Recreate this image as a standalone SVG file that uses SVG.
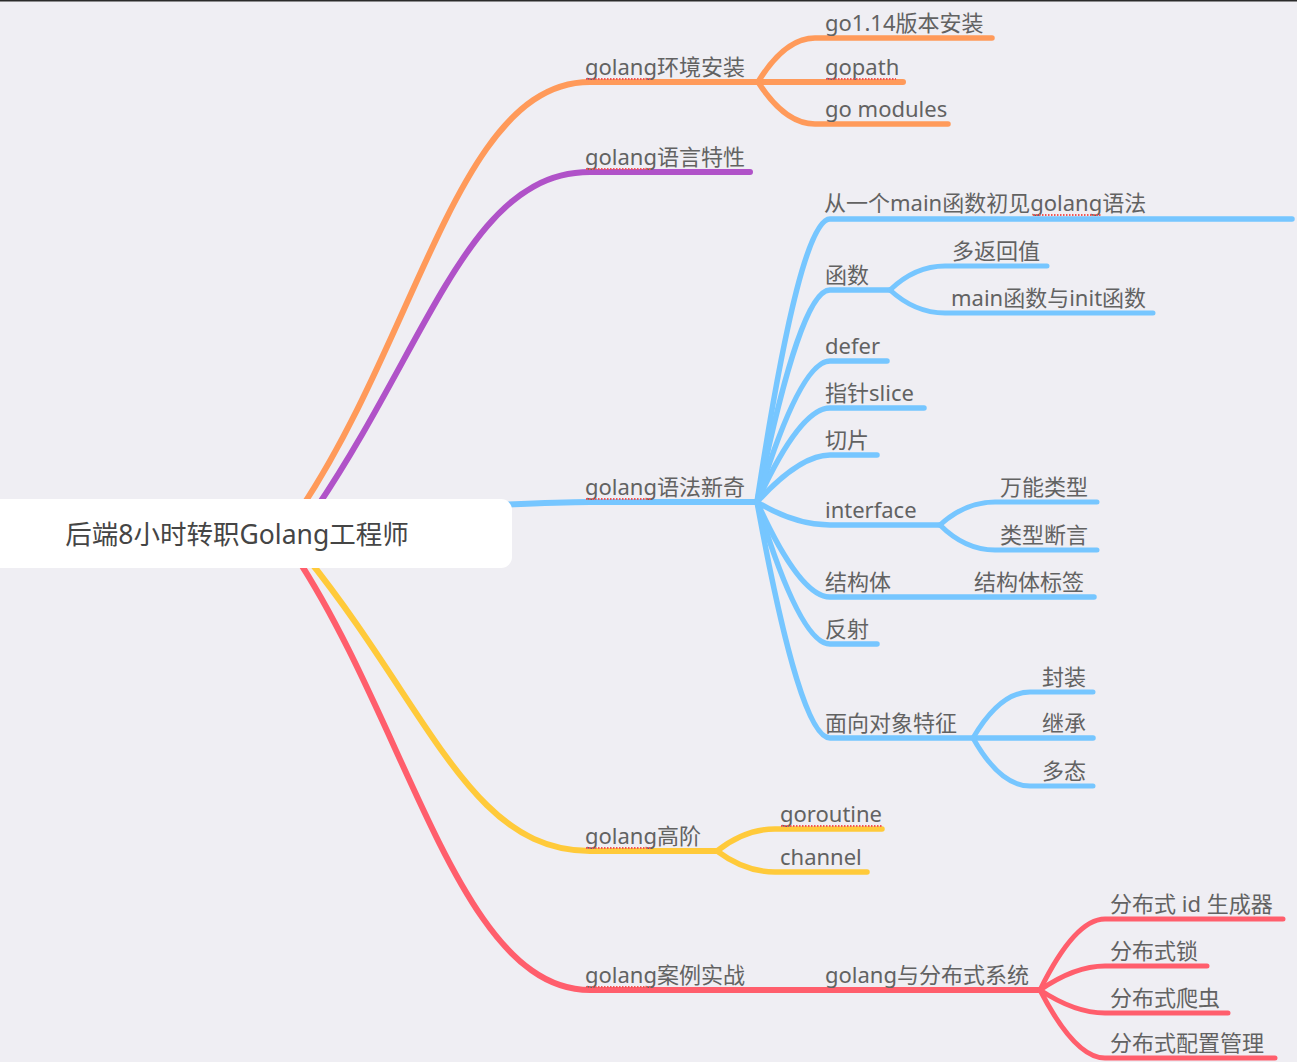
<svg xmlns="http://www.w3.org/2000/svg" width="1297" height="1062" viewBox="0 0 1297 1062">
<style>
  .t { font-family: "Noto Sans", "Noto Sans CJK SC", sans-serif; font-size: 22px; fill: #626262; }
  .root { font-family: "Noto Sans", "Noto Sans CJK SC", sans-serif; font-size: 26.5px; fill: #454545; }
  .c { fill: none; stroke-linecap: round; stroke-linejoin: round; }
  .l1 { stroke-width: 6; }
  .l2 { stroke-width: 5.5; }
  .l3 { stroke-width: 5; }
  .or { stroke: #FF9A5A; }
  .pu { stroke: #B052C8; }
  .bl { stroke: #76C6FF; }
  .ye { stroke: #FFCA3A; }
  .re { stroke: #FF5E6C; }
  .sp { fill: none; stroke: #F25555; stroke-width: 2; stroke-dasharray: 1.5 1.5; }
</style>
<rect x="0" y="0" width="1297" height="1062" fill="#EFEEF3"/>
<rect x="0" y="0" width="1297" height="1.5" fill="#2A2A2A"/>

<g id="connectors">
  <!-- level 1 -->
  <path class="c l1 or" d="M300,510 C420,330 460,82 590,82 L903,82"/>
  <path class="c l1 pu" d="M315,510 C430,340 470,172 590,172 L750,172"/>
  <path class="c l1 bl" d="M500,505 C540,503 560,502 590,502 L757,502"/>
  <path class="c l1 ye" d="M305,555 C430,710 470,851 590,851 L717,851"/>
  <path class="c l1 re" d="M295,555 C410,730 460,990 590,990 L1040,990"/>

  <!-- orange children -->
  <path class="c l2 or" d="M758,82 Q785,38 815,38 L992,38"/>
  <path class="c l2 or" d="M758,82 Q785,124 815,124 L948,124"/>

  <!-- blue children -->
  <path class="c l2 bl" d="M757,502 Q800,219 830,219 L1292,219"/>
  <path class="c l2 bl" d="M757,502 Q800,290 830,290 L890,290"/>
  <path class="c l2 bl" d="M757,502 Q800,361 830,361 L887,361"/>
  <path class="c l2 bl" d="M757,502 Q800,408 830,408 L924,408"/>
  <path class="c l2 bl" d="M757,502 Q800,455 830,455 L877,455"/>
  <path class="c l2 bl" d="M757,502 Q795,525 830,525 L940,525"/>
  <path class="c l2 bl" d="M757,502 Q800,597 830,597 L1094,597"/>
  <path class="c l2 bl" d="M757,502 Q800,644 830,644 L877,644"/>
  <path class="c l2 bl" d="M757,502 Q800,738 830,738 L1093,738"/>

  <!-- 函数 children -->
  <path class="c l3 bl" d="M890,290 Q915,266 945,266 L1047,266"/>
  <path class="c l3 bl" d="M890,290 Q915,313 945,313 L1153,313"/>
  <!-- interface children -->
  <path class="c l3 bl" d="M940,525 Q965,502 995,502 L1097,502"/>
  <path class="c l3 bl" d="M940,525 Q965,550 995,550 L1097,550"/>
  <!-- 面向对象 children -->
  <path class="c l3 bl" d="M973,738 Q1000,692 1030,692 L1093,692"/>
  <path class="c l3 bl" d="M973,738 Q1000,786 1030,786 L1093,786"/>

  <!-- yellow children -->
  <path class="c l2 ye" d="M717,851 Q745,829 775,829 L882,829"/>
  <path class="c l2 ye" d="M717,851 Q745,872 775,872 L867,872"/>

  <!-- red children -->
  <path class="c l3 re" d="M1040,990 Q1075,919 1105,919 L1283,919"/>
  <path class="c l3 re" d="M1040,990 Q1075,966 1105,966 L1207,966"/>
  <path class="c l3 re" d="M1040,990 Q1075,1013 1105,1013 L1228,1013"/>
  <path class="c l3 re" d="M1040,990 Q1075,1058 1105,1058 L1275,1058"/>
</g>

<g id="root">
  <rect x="-20" y="499" width="532" height="69" rx="11" ry="11" fill="#FFFFFF"/>
  <text class="root" x="237" y="544" text-anchor="middle">后端8小时转职Golang工程师</text>
</g>

<g id="n-env"><text class="t" x="585" y="75">golang环境安装</text></g>
<g id="n-go114"><text class="t" x="825" y="31">go1.14版本安装</text></g>
<g id="n-gopath"><text class="t" x="825" y="75">gopath</text></g>
<g id="n-gomod"><text class="t" x="825" y="117">go modules</text></g>
<g id="n-feature"><text class="t" x="585" y="165">golang语言特性</text></g>
<g id="n-syntax"><text class="t" x="585" y="495">golang语法新奇</text></g>
<g id="n-main"><text class="t" x="824" y="211">从一个main函数初见golang语法</text></g>
<g id="n-func"><text class="t" x="825" y="283">函数</text></g>
<g id="n-multi"><text class="t" x="952" y="259">多返回值</text></g>
<g id="n-init"><text class="t" x="951" y="306">main函数与init函数</text></g>
<g id="n-defer"><text class="t" x="825" y="354">defer</text></g>
<g id="n-ptr"><text class="t" x="825" y="401">指针slice</text></g>
<g id="n-slice"><text class="t" x="825" y="448">切片</text></g>
<g id="n-iface"><text class="t" x="825" y="518">interface</text></g>
<g id="n-any"><text class="t" x="1000" y="495">万能类型</text></g>
<g id="n-assert"><text class="t" x="1000" y="543">类型断言</text></g>
<g id="n-struct"><text class="t" x="825" y="590">结构体</text></g>
<g id="n-tag"><text class="t" x="974" y="590">结构体标签</text></g>
<g id="n-reflect"><text class="t" x="825" y="637">反射</text></g>
<g id="n-oop"><text class="t" x="825" y="731">面向对象特征</text></g>
<g id="n-encap"><text class="t" x="1042" y="685">封装</text></g>
<g id="n-inherit"><text class="t" x="1042" y="731">继承</text></g>
<g id="n-poly"><text class="t" x="1042" y="779">多态</text></g>
<g id="n-adv"><text class="t" x="585" y="844">golang高阶</text></g>
<g id="n-goroutine"><text class="t" x="780" y="822">goroutine</text></g>
<g id="n-channel"><text class="t" x="780" y="865">channel</text></g>
<g id="n-case"><text class="t" x="585" y="983">golang案例实战</text></g>
<g id="n-dist"><text class="t" x="825" y="983">golang与分布式系统</text></g>
<g id="n-id"><text class="t" x="1110" y="912">分布式 id 生成器</text></g>
<g id="n-lock"><text class="t" x="1110" y="959">分布式锁</text></g>
<g id="n-crawl"><text class="t" x="1110" y="1006">分布式爬虫</text></g>
<g id="n-conf"><text class="t" x="1110" y="1051">分布式配置管理</text></g>

<g id="spellcheck">
  <line class="sp" x1="586" y1="79" x2="652" y2="79"/>
  <line class="sp" x1="826" y1="79" x2="896" y2="79"/>
  <line class="sp" x1="586" y1="169" x2="652" y2="169"/>
  <line class="sp" x1="586" y1="499" x2="652" y2="499"/>
  <line class="sp" x1="1033" y1="215" x2="1102" y2="215"/>
  <line class="sp" x1="586" y1="848" x2="652" y2="848"/>
  <line class="sp" x1="781" y1="826" x2="883" y2="826"/>
  <line class="sp" x1="586" y1="987" x2="652" y2="987"/>
</g>
</svg>
